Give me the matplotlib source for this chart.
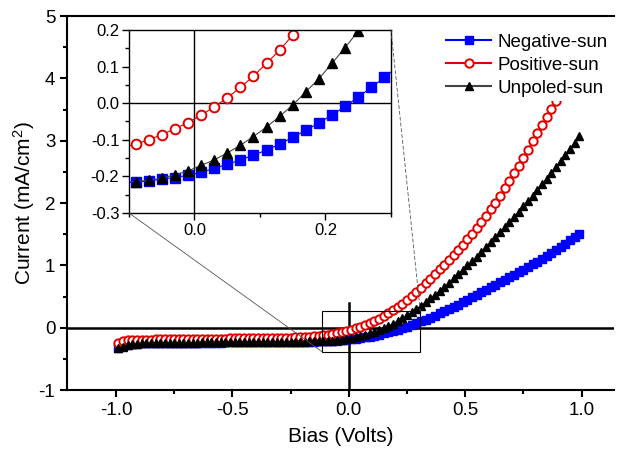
import numpy as np
import matplotlib
matplotlib.use("Agg")
import matplotlib.pyplot as plt
from matplotlib.patches import Rectangle, ConnectionPatch

plt.rcParams["font.family"] = ["Liberation Sans", "DejaVu Sans"]
plt.rcParams["mathtext.default"] = "regular"

# Bias points (V)
bias = np.round(np.arange(-0.99, 1.0, 0.02), 2)

# Current density (mA/cm^2)
negative_sun = [
    -0.32, -0.29, -0.27, -0.26, -0.255, -0.25, -0.248, -0.247, -0.246, -0.245,
    -0.244, -0.243, -0.243, -0.242, -0.242, -0.241, -0.241, -0.240, -0.240, -0.239,
    -0.239, -0.238, -0.238, -0.237, -0.237, -0.236, -0.236, -0.235, -0.235, -0.234,
    -0.234, -0.233, -0.233, -0.232, -0.232, -0.231, -0.230, -0.229, -0.228, -0.227,
    -0.226, -0.224, -0.222, -0.220, -0.218, -0.215, -0.213, -0.207, -0.203, -0.197,
    -0.189, -0.178, -0.167, -0.155, -0.142, -0.128, -0.112, -0.093, -0.074, -0.054,
    -0.032, -0.009, 0.017, 0.043, 0.071, 0.10, 0.13, 0.16, 0.195, 0.23,
    0.265, 0.30, 0.335, 0.37, 0.41, 0.45, 0.49, 0.53, 0.57, 0.61,
    0.65, 0.69, 0.73, 0.77, 0.81, 0.85, 0.89, 0.93, 0.97, 1.02,
    1.06, 1.10, 1.15, 1.20, 1.25, 1.30, 1.35, 1.40, 1.45, 1.50,
]
positive_sun = [
    -0.25, -0.22, -0.205, -0.198, -0.195, -0.193, -0.191, -0.190, -0.189, -0.188,
    -0.187, -0.186, -0.185, -0.184, -0.183, -0.182, -0.181, -0.180, -0.179, -0.178,
    -0.177, -0.176, -0.175, -0.174, -0.173, -0.172, -0.171, -0.170, -0.169, -0.168,
    -0.167, -0.166, -0.165, -0.164, -0.163, -0.162, -0.160, -0.158, -0.156, -0.154,
    -0.151, -0.147, -0.140, -0.132, -0.122, -0.112, -0.100, -0.086, -0.070, -0.053,
    -0.033, -0.010, 0.0145, 0.043, 0.074, 0.109, 0.145, 0.186, 0.23, 0.278,
    0.33, 0.385, 0.445, 0.51, 0.575, 0.645, 0.715, 0.785, 0.86, 0.935,
    1.01, 1.09, 1.17, 1.25, 1.33, 1.42, 1.51, 1.60, 1.70, 1.80,
    1.90, 2.00, 2.12, 2.24, 2.36, 2.48, 2.60, 2.73, 2.86, 2.99,
    3.12, 3.25, 3.38, 3.51, 3.64, 3.77, 3.90, 4.03, 4.16, 4.29,
]
unpoled_sun = [
    -0.33, -0.31, -0.285, -0.265, -0.255, -0.25, -0.247, -0.245, -0.244, -0.243,
    -0.242, -0.241, -0.240, -0.240, -0.239, -0.239, -0.238, -0.238, -0.237, -0.237,
    -0.236, -0.236, -0.235, -0.235, -0.234, -0.234, -0.233, -0.233, -0.232, -0.232,
    -0.231, -0.231, -0.230, -0.229, -0.228, -0.227, -0.226, -0.225, -0.224, -0.223,
    -0.222, -0.220, -0.219, -0.217, -0.216, -0.214, -0.211, -0.205, -0.196, -0.185,
    -0.170, -0.155, -0.136, -0.115, -0.091, -0.065, -0.036, -0.005, 0.031, 0.067,
    0.109, 0.152, 0.197, 0.245, 0.295, 0.35, 0.41, 0.47, 0.53, 0.59,
    0.655, 0.72, 0.79, 0.86, 0.93, 1.00, 1.07, 1.14, 1.22, 1.30,
    1.38, 1.46, 1.54, 1.62, 1.70, 1.78, 1.86, 1.95, 2.03, 2.12,
    2.21, 2.30, 2.39, 2.48, 2.58, 2.67, 2.77, 2.87, 2.97, 3.07,
]


def draw_series(ax, ms):
    ax.plot(bias, negative_sun, color="#0000ff", lw=0.8, marker="s", ms=ms,
            mfc="#0000ff", mec="#0000ff", label="Negative-sun")
    ax.plot(bias, positive_sun, color="#e00000", lw=0.8, marker="o", ms=ms,
            mfc="white", mec="#e00000", mew=1.4, label="Positive-sun")
    ax.plot(bias, unpoled_sun, color="#444444", lw=0.8, marker="^", ms=ms,
            mfc="black", mec="black", label="Unpoled-sun")


fig = plt.figure(figsize=(6.21, 4.57), dpi=100)
ax = fig.add_axes([0.108, 0.1466, 0.881, 0.818])
draw_series(ax, 6)

ax.axhline(0, color="black", lw=1.8, zorder=1)
ax.axvline(0, ymin=0, ymax=0.233, color="black", lw=1.8, zorder=1)

ax.set_xlim(-1.21, 1.14)
ax.set_ylim(-1, 5)
ax.set_xticks([-1.0, -0.5, 0.0, 0.5, 1.0])
ax.set_xticklabels(["-1.0", "-0.5", "0.0", "0.5", "1.0"])
ax.set_xticks([-0.75, -0.25, 0.25, 0.75], minor=True)
ax.set_yticks(range(-1, 6))
ax.set_yticklabels([str(v) for v in range(-1, 6)])
ax.set_yticks([-0.5, 0.5, 1.5, 2.5, 3.5, 4.5], minor=True)
ax.tick_params(axis="both", which="major", direction="out", length=5, width=1.5,
               labelsize=13.5, top=False, right=False)
ax.tick_params(axis="both", which="minor", direction="out", length=3, width=1.5,
               top=False, right=False)
ax.spines["right"].set_visible(False)
for s in ["left", "bottom", "top"]:
    ax.spines[s].set_linewidth(1.5)
ax.set_xlabel("Bias (Volts)", fontsize=15, labelpad=6)
ax.set_ylabel("Current (mA/cm$^2$)", fontsize=15)
ax.yaxis.set_label_coords(-0.055, 0.5)

leg = ax.legend(loc="upper right", bbox_to_anchor=(0.985, 0.935),
                bbox_transform=fig.transFigure, fontsize=13.5, frameon=True,
                numpoints=1, handlelength=2.4, handletextpad=0.35,
                labelspacing=0.32, borderaxespad=0, borderpad=0.2)
leg.get_frame().set_edgecolor("none")
leg.get_frame().set_facecolor("white")
leg.get_frame().set_alpha(1)
leg.set_zorder(5)
for h in leg.get_lines():
    h.set_linewidth(1.5)

# zoom window on the main plot
ax.add_patch(Rectangle((-0.115, -0.385), 0.422, 0.655, fill=False,
                       ec="black", lw=0.8, zorder=4))

# inset
axin = fig.add_axes([0.2077, 0.5339, 0.4219, 0.4005])
draw_series(axin, 7)
axin.axhline(0, color="black", lw=1.0, zorder=1)
axin.axvline(0, color="black", lw=1.0, zorder=1)
axin.set_xlim(-0.1, 0.3)
axin.set_ylim(-0.3, 0.2)
axin.set_xticks([0.0, 0.2])
axin.set_xticklabels(["0.0", "0.2"])
axin.set_xticks([-0.1, 0.1, 0.3], minor=True)
axin.set_yticks([-0.3, -0.2, -0.1, 0.0, 0.1, 0.2])
axin.set_yticklabels(["-0.3", "-0.2", "-0.1", "0.0", "0.1", "0.2"])
axin.set_yticks([-0.25, -0.15, -0.05, 0.05, 0.15], minor=True)
axin.tick_params(axis="both", which="major", direction="out", length=5, width=1,
                 labelsize=12, top=False, right=False, pad=2)
axin.tick_params(axis="both", which="minor", direction="out", length=3, width=1,
                 top=False, right=False)
for s in axin.spines.values():
    s.set_linewidth(1.0)

con1 = ConnectionPatch(xyA=(0, 0), coordsA=axin.transAxes,
                       xyB=(-0.115, -0.385), coordsB=ax.transData,
                       color="#555555", lw=0.6)
con2 = ConnectionPatch(xyA=(1, 1), coordsA=axin.transAxes,
                       xyB=(0.307, 0.27), coordsB=ax.transData,
                       color="#555555", lw=0.6, ls=(0, (4, 3)))
fig.add_artist(con1)
fig.add_artist(con2)

fig.savefig("out.png", dpi=100)
